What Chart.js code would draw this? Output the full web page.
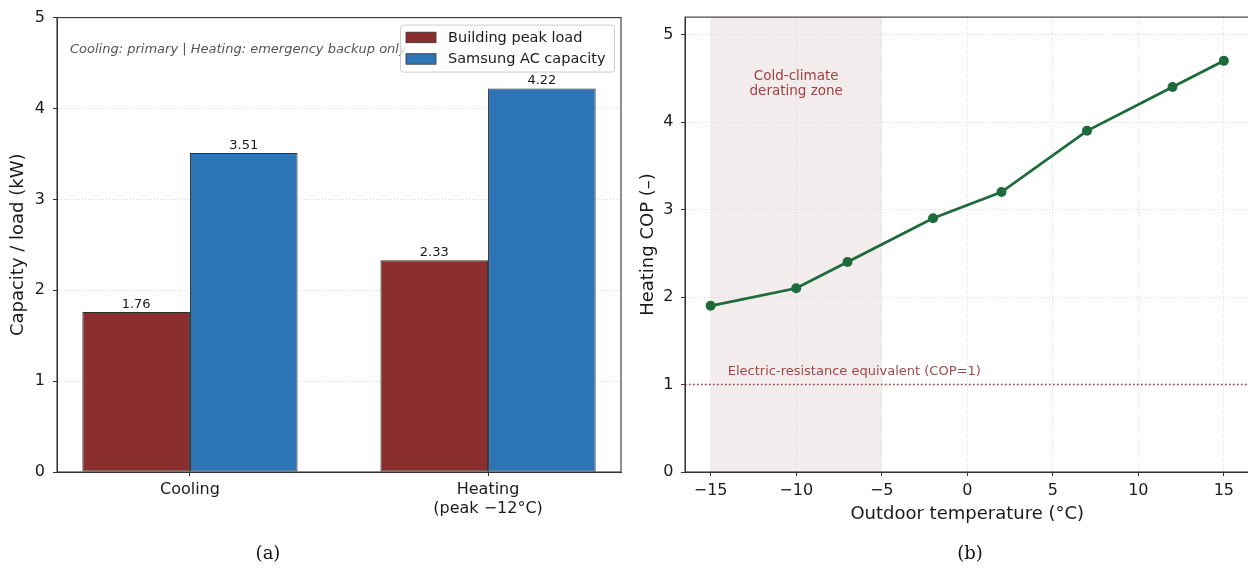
<!DOCTYPE html>
<html>
<head>
<meta charset="utf-8">
<script src="https://cdn.jsdelivr.net/npm/chart.js@4.4.1/dist/chart.umd.min.js"></script>
<style>
  html, body { margin: 0; padding: 0; background: #fff; overflow: hidden; }
  body { width: 1248px; height: 569px; position: relative; }
  .panel { position: absolute; top: 0; width: 640px; height: 569px; }
  #panel-a { left: 0; }
  #panel-b { left: 630px; }
  .caption { position: absolute; top: 542px; line-height: 22px; font: 18px "DejaVu Serif", serif; color: #111; transform: translateX(-50%); }
</style>
</head>
<body>
<div class="panel" id="panel-a"><canvas id="chart-a"></canvas></div>
<div class="panel" id="panel-b"><canvas id="chart-b"></canvas></div>
<div class="caption" style="left:268px">(a)</div>
<div class="caption" style="left:970px">(b)</div>
<script>
// (a) capacity vs. load
const MODES = ["Cooling", ["Heating", "(peak \u221212\u00b0C)"]];
const MODE_POS = [0, 1];
const PEAK_LOAD = [1.76, 2.33];
const AC_CAPACITY = [3.51, 4.22];
const CAPACITY_TICKS = [0, 1, 2, 3, 4, 5];
const NOTE = "Cooling: primary | Heating: emergency backup only";

// (b) heating COP vs. outdoor temperature
const TEMPS = [-15, -10, -7, -2, 2, 7, 12, 15];
const COP = [1.9, 2.1, 2.4, 2.9, 3.2, 3.9, 4.4, 4.7];
const TEMP_TICKS = [-15, -10, -5, 0, 5, 10, 15];
const COP_TICKS = [0, 1, 2, 3, 4, 5];
const DERATE_ZONE = [-15, -5];
const COP_REF = 1;

const RED = "#8a2e2e";
const BLUE = "#2e75b6";
const GREEN = "#1d6b3b";
const TEXT = "#1a1a1a";
const GRID = "#cfcfcf";

Chart.defaults.font.family = "'DejaVu Sans', sans-serif";
Chart.defaults.color = TEXT;

function minusSign(v) {
  return v < 0 ? "\u2212" + Math.abs(v) : String(v);
}

function pairs(xs, ys) {
  return xs.map(function (x, i) { return { x: x, y: ys[i] }; });
}

// matplotlib draws a full box round the axes, Chart.js only the axis lines
const frame = {
  id: "frame",
  afterDraw(chart) {
    const { ctx, chartArea: a } = chart;
    ctx.save();
    ctx.setLineDash([]);
    ctx.strokeStyle = "#333";
    ctx.lineWidth = 1.1;
    ctx.strokeRect(a.left, a.top, a.right - a.left, a.bottom - a.top);
    ctx.restore();
  },
};

const barLabels = {
  id: "barLabels",
  afterDatasetsDraw(chart) {
    const { ctx, chartArea } = chart;
    ctx.save();
    ctx.font = "13px 'DejaVu Sans'";
    ctx.fillStyle = TEXT;
    ctx.textAlign = "center";
    ctx.textBaseline = "alphabetic";
    chart.data.datasets.forEach(function (ds, i) {
      chart.getDatasetMeta(i).data.forEach(function (bar, j) {
        ctx.fillText(ds.data[j].y.toFixed(2), bar.x, bar.y - 4.5);
      });
    });
    ctx.font = "italic 13px 'DejaVu Sans'";
    ctx.fillStyle = "#555";
    ctx.textAlign = "left";
    ctx.textBaseline = "middle";
    ctx.fillText(NOTE, chartArea.left + 13, chartArea.top + 32);
    ctx.restore();
  },
};

const legendBox = {
  id: "legendBox",
  afterDraw(chart) {
    const { ctx, chartArea } = chart;
    const w = 214, h = 47;
    const x = chartArea.right - 6.5 - w;
    const y = chartArea.top + 7.5;
    ctx.save();
    ctx.beginPath();
    ctx.roundRect(x, y, w, h, 3);
    ctx.fillStyle = "rgba(255,255,255,0.8)";
    ctx.fill();
    ctx.strokeStyle = "#cccccc";
    ctx.lineWidth = 1;
    ctx.stroke();
    chart.data.datasets.forEach(function (ds, i) {
      const cy = y + 12.3 + i * 21.5;
      ctx.fillStyle = ds.backgroundColor;
      ctx.fillRect(x + 5.5, cy - 5.2, 30, 10.5);
      ctx.strokeStyle = "#333";
      ctx.lineWidth = 0.8;
      ctx.strokeRect(x + 5.5, cy - 5.2, 30, 10.5);
      ctx.fillStyle = TEXT;
      ctx.font = "14.5px 'DejaVu Sans'";
      ctx.textBaseline = "middle";
      ctx.fillText(ds.label, x + 47.5, cy + 0.5);
    });
    ctx.restore();
  },
};

new Chart(document.getElementById("chart-a"), {
  type: "bar",
  data: {
    datasets: [
      {
        label: "Building peak load",
        data: pairs(MODE_POS, PEAK_LOAD),
        backgroundColor: RED,
        borderColor: "#2f2f2f",
        borderWidth: 1,
        borderSkipped: false,
      },
      {
        label: "Samsung AC capacity",
        data: pairs(MODE_POS, AC_CAPACITY),
        backgroundColor: BLUE,
        borderColor: "#2f2f2f",
        borderWidth: 1,
        borderSkipped: false,
      },
    ],
  },
  options: {
    responsive: true,
    maintainAspectRatio: false,
    animation: false,
    categoryPercentage: 0.722,
    barPercentage: 1,
    layout: { padding: { left: 0, right: 19, top: 16, bottom: 37 } },
    plugins: { legend: { display: false }, tooltip: { enabled: false } },
    scales: {
      x: {
        type: "linear",
        offset: false,
        min: -0.446,
        max: 1.446,
        afterBuildTicks: function (s) { s.ticks = MODE_POS.map(function (v) { return { value: v }; }); },
        afterFit: function (s) { s.height = 60; },
        ticks: {
          callback: function (v) { return MODES[MODE_POS.indexOf(v)]; },
          font: { size: 16, lineHeight: 1.15 },
          color: TEXT,
          padding: 5,
          maxRotation: 0,
          autoSkip: false,
        },
        grid: { offset: false, drawOnChartArea: false, tickLength: 4, tickColor: "#333", tickWidth: 1 },
        border: { color: "#333", width: 1 },
      },
      y: {
        min: 0,
        max: 5,
        afterBuildTicks: function (s) { s.ticks = CAPACITY_TICKS.map(function (v) { return { value: v }; }); },
        afterFit: function (s) { s.width = 57; },
        ticks: { font: { size: 16 }, color: TEXT, padding: 8 },
        grid: { color: GRID, lineWidth: 0.8, tickLength: 4, tickColor: "#333", tickWidth: 1, tickBorderDash: [] },
        border: { color: "#333", width: 1, dash: [1, 2] },
        title: { display: true, text: "Capacity / load (kW)", font: { size: 18 }, color: TEXT, padding: { top: 7.5, bottom: 0 } },
      },
    },
  },
  plugins: [barLabels, frame, legendBox],
});

const coldZone = {
  id: "coldZone",
  beforeDraw(chart) {
    const { ctx, chartArea: a, scales } = chart;
    const x0 = scales.x.getPixelForValue(DERATE_ZONE[0]);
    const x1 = scales.x.getPixelForValue(DERATE_ZONE[1]);
    ctx.save();
    ctx.fillStyle = "#f2ecec";
    ctx.fillRect(x0, a.top, x1 - x0, a.bottom - a.top);
    ctx.restore();
  },
  beforeDatasetsDraw(chart) {
    const { ctx, chartArea: a, scales } = chart;
    const xMid = scales.x.getPixelForValue((DERATE_ZONE[0] + DERATE_ZONE[1]) / 2);
    const yMid = scales.y.getPixelForValue(4.43);
    ctx.save();
    ctx.font = "13.5px 'DejaVu Sans'";
    ctx.fillStyle = "#a04040";
    ctx.textAlign = "center";
    ctx.textBaseline = "middle";
    ctx.fillText("Cold-climate", xMid, yMid - 7.5);
    ctx.fillText("derating zone", xMid, yMid + 7.5);

    const yRef = scales.y.getPixelForValue(COP_REF);
    ctx.strokeStyle = "#a83232";
    ctx.lineWidth = 1.5;
    ctx.setLineDash([1.5, 2.5]);
    ctx.beginPath();
    ctx.moveTo(a.left, yRef);
    ctx.lineTo(a.right, yRef);
    ctx.stroke();
    ctx.setLineDash([]);
    ctx.font = "13px 'DejaVu Sans'";
    ctx.fillStyle = "#a04848";
    ctx.textAlign = "left";
    ctx.fillText("Electric-resistance equivalent (COP=1)", scales.x.getPixelForValue(-14), scales.y.getPixelForValue(1.15));
    ctx.restore();
  },
};

new Chart(document.getElementById("chart-b"), {
  type: "line",
  data: {
    datasets: [
      {
        label: "Heating COP",
        data: pairs(TEMPS, COP),
        borderColor: GREEN,
        backgroundColor: GREEN,
        borderWidth: 2.8,
        pointRadius: 5,
        pointBorderWidth: 0,
        pointBackgroundColor: GREEN,
        tension: 0,
      },
    ],
  },
  options: {
    responsive: true,
    maintainAspectRatio: false,
    animation: false,
    layout: { padding: { left: 0, right: 20.5, top: 16, bottom: 37 } },
    plugins: { legend: { display: false }, tooltip: { enabled: false } },
    scales: {
      x: {
        type: "linear",
        min: -16.5,
        max: 16.5,
        afterBuildTicks: function (s) { s.ticks = TEMP_TICKS.map(function (v) { return { value: v }; }); },
        afterFit: function (s) { s.height = 60; },
        ticks: { callback: minusSign, font: { size: 16 }, color: TEXT, padding: 5, maxRotation: 0, autoSkip: false },
        grid: { color: GRID, lineWidth: 0.8, tickLength: 4, tickColor: "#333", tickWidth: 1, tickBorderDash: [] },
        border: { color: "#333", width: 1, dash: [1, 2] },
        title: { display: true, text: "Outdoor temperature (\u00b0C)", font: { size: 18 }, color: TEXT, padding: { top: 0, bottom: 6.5 } },
      },
      y: {
        min: 0,
        max: 5.2,
        afterBuildTicks: function (s) { s.ticks = COP_TICKS.map(function (v) { return { value: v }; }); },
        afterFit: function (s) { s.width = 55; },
        ticks: { font: { size: 16 }, color: TEXT, padding: 7.5 },
        grid: { color: GRID, lineWidth: 0.8, tickLength: 4, tickColor: "#333", tickWidth: 1, tickBorderDash: [] },
        border: { color: "#333", width: 1, dash: [1, 2] },
        title: { display: true, text: "Heating COP (\u2013)", font: { size: 18 }, color: TEXT, padding: { top: 7.5, bottom: 0 } },
      },
    },
  },
  plugins: [coldZone, frame],
});
</script>
</body>
</html>
